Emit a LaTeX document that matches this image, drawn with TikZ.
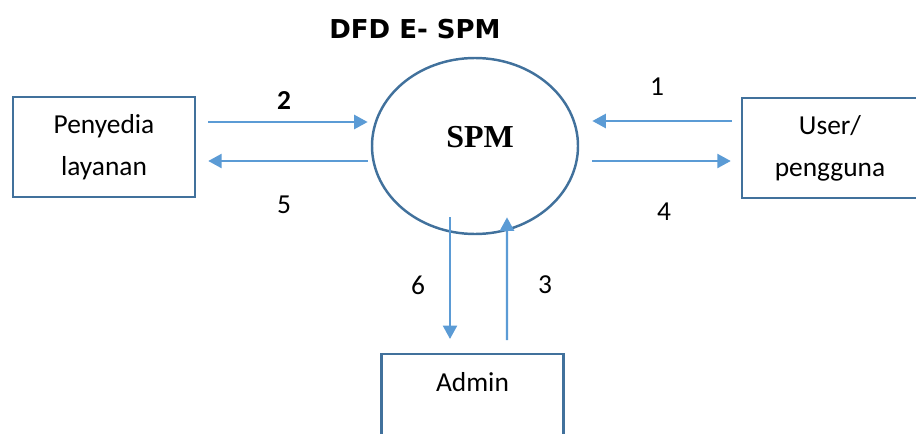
\documentclass[tikz,border=0pt]{standalone}
\definecolor{dfdline}{RGB}{91, 155, 213}
\definecolor{dfdborder}{RGB}{65, 113, 156}
\usepackage{fontspec}
\setmainfont{Carlito}
\newfontfamily\titlefont{DejaVu Sans}
\newfontfamily\spmfont{Liberation Serif}
\usetikzlibrary{arrows.meta}

\tikzset{
  entity/.style={draw=dfdborder, line width=1.4pt, minimum width=3.64cm, minimum height=2cm,
                 align=center, font=\fontsize{15.6}{24}\selectfont},
  flow/.style={draw=dfdline, line width=1.4pt, -{Triangle[length=0.27cm,width=0.28cm]}},
  num/.style={font=\fontsize{15.6}{18}\selectfont}
}

\begin{document}
\begin{tikzpicture}[x=0.02cm, y=-0.02cm]
  \useasboundingbox (0,0) rectangle (916,433);
  % title
  \node (title) at (415,29) {\titlefont\bfseries\fontsize{14.8}{17}\selectfont DFD E- SPM};

  % process and external entities
  \draw[dfdborder, line width=1.4pt] (475,146) ellipse (103 and 88);
  \node (spm) at (475,146) [minimum width=4.12cm, minimum height=3.52cm] {};
  \node at (480,137) {\spmfont\bfseries\fontsize{18.2}{20}\selectfont SPM};
  \node[entity] (pl) at (104,147) {Penyedia\\layanan};
  \node[entity, minimum width=3.52cm] (user) at (830,148) {User/\\pengguna};
  \node[entity, anchor=north, text height=0.74cm, text depth=1.26cm, inner ysep=0pt] (admin) at (472.5,353) {Admin};

  % data flows
  \draw[flow] ([shift={(12,-25)}]pl.east) -- ([shift={(-4,-24)}]spm.west);
  \draw[flow] ([shift={(-4,15)}]spm.west) -- ([shift={(12,14)}]pl.east);
  \draw[flow] ([shift={(-9,-27)}]user.west) -- ([shift={(14,-25)}]spm.east);
  \draw[flow] ([shift={(14,15)}]spm.east) -- ([shift={(-10,13)}]user.west);
  \draw[flow] ([shift={(-25,-17)}]spm.south) -- ([shift={(-22.5,-14)}]admin.north);
  \draw[flow] ([shift={(34.5,-13)}]admin.north) -- ([shift={(32,-17)}]spm.south);

  \node[num] (n1) at (657,87) {1};
  \node[num] (n2) at (284,101) {\bfseries 2};
  \node[num] (n3) at (545,285) {3};
  \node[num] (n4) at (664,212) {4};
  \node[num] (n5) at (284,205) {5};
  \node[num] (n6) at (418,285) {6};
\end{tikzpicture}
\end{document}
